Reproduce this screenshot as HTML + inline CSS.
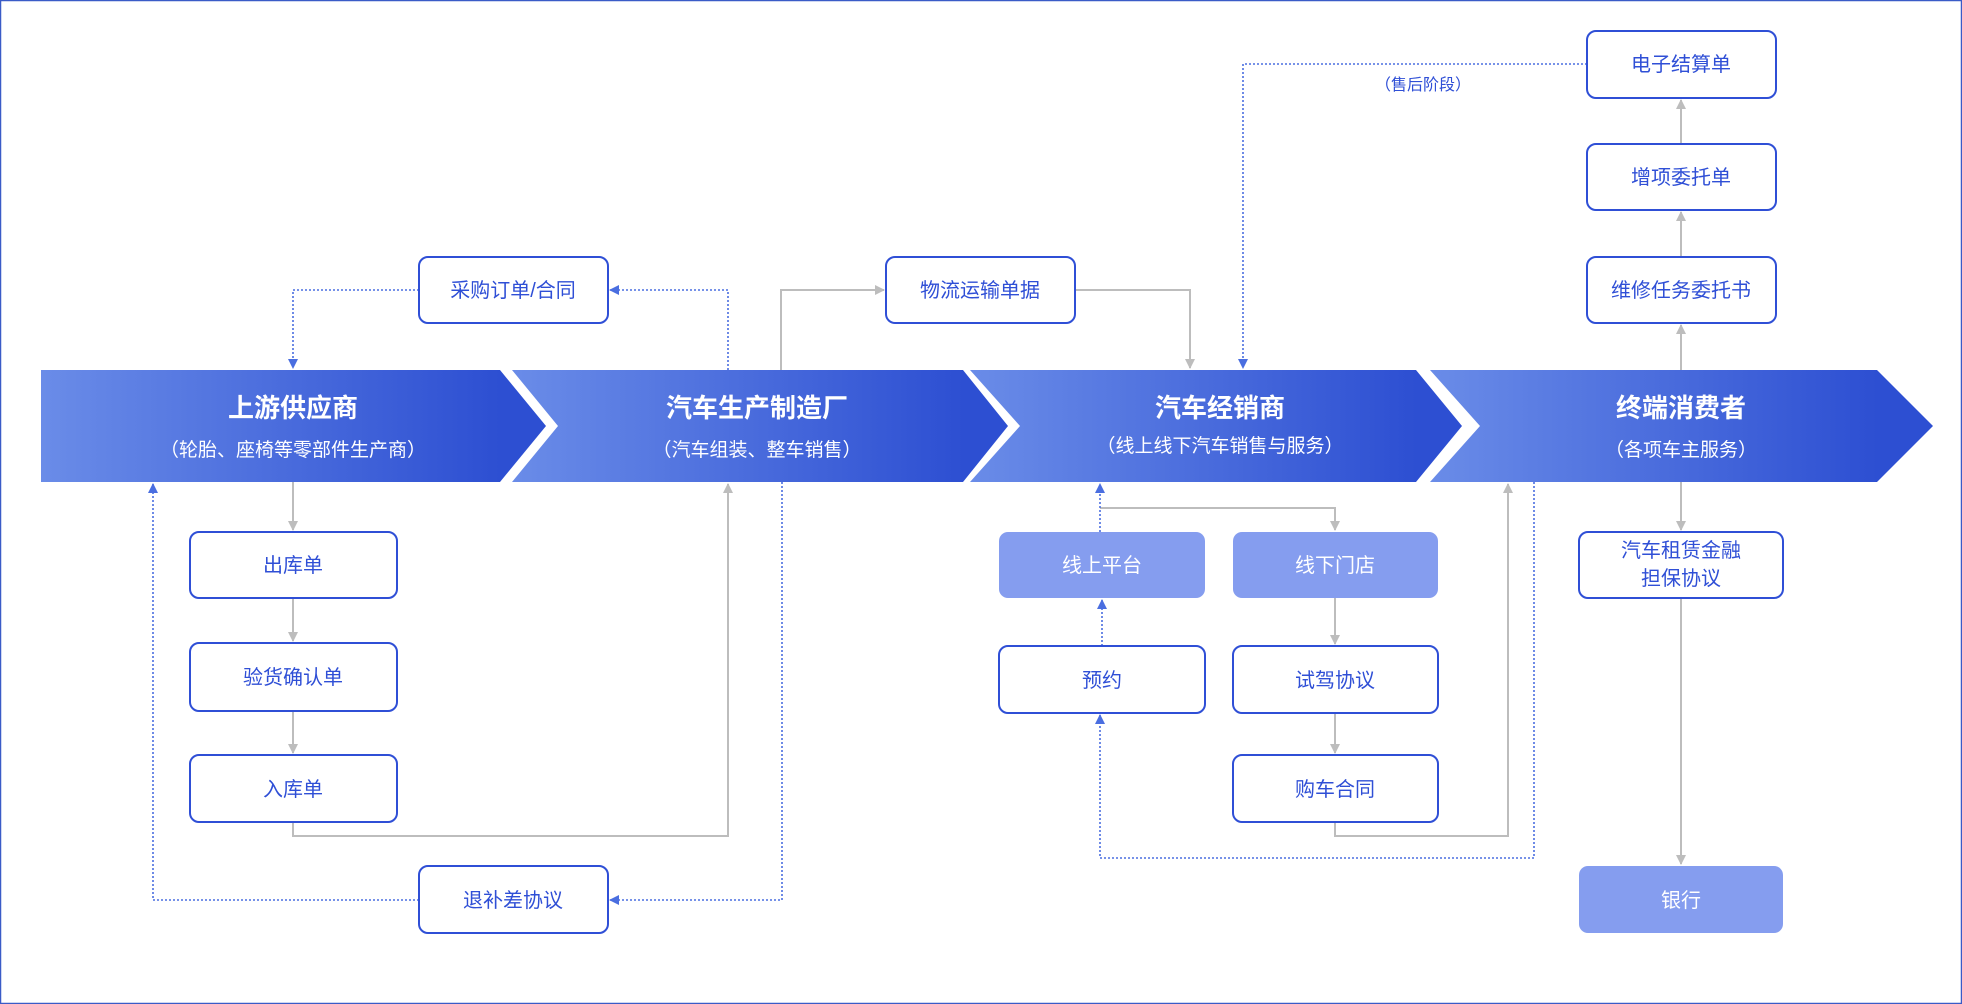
<!DOCTYPE html>
<html><head><meta charset="utf-8"><style>
html,body{margin:0;padding:0;background:#fff}
svg{display:block}
text{font-family:"Liberation Sans","Noto Sans CJK SC",sans-serif}
</style></head><body>
<svg width="1962" height="1004" viewBox="0 0 1962 1004" xmlns="http://www.w3.org/2000/svg">
<defs>
<linearGradient id="g1" gradientUnits="userSpaceOnUse" x1="41" y1="0" x2="500" y2="0"><stop offset="0" stop-color="#6a8ce8"/><stop offset="1" stop-color="#2d4fd2"/></linearGradient>
<linearGradient id="g2" gradientUnits="userSpaceOnUse" x1="512" y1="0" x2="963" y2="0"><stop offset="0" stop-color="#6a8ce8"/><stop offset="1" stop-color="#2d4fd2"/></linearGradient>
<linearGradient id="g3" gradientUnits="userSpaceOnUse" x1="970" y1="0" x2="1416" y2="0"><stop offset="0" stop-color="#6a8ce8"/><stop offset="1" stop-color="#2d4fd2"/></linearGradient>
<linearGradient id="g4" gradientUnits="userSpaceOnUse" x1="1430" y1="0" x2="1877" y2="0"><stop offset="0" stop-color="#6a8ce8"/><stop offset="1" stop-color="#2d4fd2"/></linearGradient>
<marker id="ag" markerWidth="10" markerHeight="10" refX="9" refY="5" orient="auto" markerUnits="userSpaceOnUse"><path d="M0,0 L10,5 L0,10 z" fill="#bdbdbd"/></marker>
<marker id="ab" markerWidth="10" markerHeight="10" refX="9" refY="5" orient="auto" markerUnits="userSpaceOnUse"><path d="M0,0 L10,5 L0,10 z" fill="#4a6ee0"/></marker>
</defs>
<rect x="0.5" y="0.5" width="1961" height="1003" fill="#fff" stroke="#3a5bc7" stroke-width="1.5"/>

<!-- banners -->
<polygon points="41,370 500,370 546,426 500,482 41,482" fill="url(#g1)"/>
<polygon points="512,370 963,370 1008,426 963,482 512,482 558,426" fill="url(#g2)"/>
<polygon points="970,370 1416,370 1462,426 1416,482 970,482 1020,426" fill="url(#g3)"/>
<polygon points="1430,370 1877,370 1933,426 1877,482 1430,482 1480,426" fill="url(#g4)"/>
<g fill="#fff" text-anchor="middle">
<text x="293" y="417" font-size="26" font-weight="bold">上游供应商</text>
<text x="293" y="456" font-size="19">（轮胎、座椅等零部件生产商）</text>
<text x="757" y="417" font-size="26" font-weight="bold">汽车生产制造厂</text>
<text x="757" y="456" font-size="19">（汽车组装、整车销售）</text>
<text x="1220" y="417" font-size="26" font-weight="bold">汽车经销商</text>
<text x="1220" y="452" font-size="19">（线上线下汽车销售与服务）</text>
<text x="1681" y="417" font-size="26" font-weight="bold">终端消费者</text>
<text x="1681" y="456" font-size="19">（各项车主服务）</text>
</g>

<!-- gray connectors -->
<g fill="none" stroke="#bdbdbd" stroke-width="2">
<path d="M781,370 V290 H884" marker-end="url(#ag)"/>
<path d="M1075,290 H1190 V368" marker-end="url(#ag)"/>
<path d="M1681,370 V325" marker-end="url(#ag)"/>
<path d="M1681,257 V212" marker-end="url(#ag)"/>
<path d="M1681,144 V100" marker-end="url(#ag)"/>
<path d="M1681,482 V530" marker-end="url(#ag)"/>
<path d="M1681,598 V864" marker-end="url(#ag)"/>
<path d="M293,482 V530" marker-end="url(#ag)"/>
<path d="M293,598 V641" marker-end="url(#ag)"/>
<path d="M293,711 V753" marker-end="url(#ag)"/>
<path d="M293,822 V836 H728 V484" marker-end="url(#ag)"/>
<path d="M1100,508 H1335 V530" marker-end="url(#ag)"/>
<path d="M1335,598 V644" marker-end="url(#ag)"/>
<path d="M1335,713 V753" marker-end="url(#ag)"/>
<path d="M1335,822 V836 H1508 V484" marker-end="url(#ag)"/>
</g>
<!-- blue dotted connectors -->
<g fill="none" stroke="#4a6ee0" stroke-width="1.6" stroke-dasharray="2,2">
<path d="M419,290 H293 V368" marker-end="url(#ab)"/>
<path d="M728,370 V290 H610" marker-end="url(#ab)"/>
<path d="M1587,64 H1243 V368" marker-end="url(#ab)"/>
<path d="M782,482 V900 H610" marker-end="url(#ab)"/>
<path d="M419,900 H153 V484" marker-end="url(#ab)"/>
<path d="M1100,532 V484" marker-end="url(#ab)"/>
<path d="M1102,646 V600" marker-end="url(#ab)"/>
<path d="M1534,482 V858 H1100 V715" marker-end="url(#ab)"/>
</g>
<text x="1423" y="90" font-size="16" fill="#2f4fd6" text-anchor="middle">（售后阶段）</text>

<!-- boxes -->
<g stroke="#2f4fd6" stroke-width="2" fill="#fff">
<rect x="419" y="257" width="189" height="66" rx="9"/>
<rect x="886" y="257" width="189" height="66" rx="9"/>
<rect x="1587" y="31" width="189" height="67" rx="9"/>
<rect x="1587" y="144" width="189" height="66" rx="9"/>
<rect x="1587" y="257" width="189" height="66" rx="9"/>
<rect x="190" y="532" width="207" height="66" rx="9"/>
<rect x="190" y="643" width="207" height="68" rx="9"/>
<rect x="190" y="755" width="207" height="67" rx="9"/>
<rect x="419" y="866" width="189" height="67" rx="9"/>
<rect x="999" y="646" width="206" height="67" rx="9"/>
<rect x="1233" y="646" width="205" height="67" rx="9"/>
<rect x="1233" y="755" width="205" height="67" rx="9"/>
<rect x="1579" y="532" width="204" height="66" rx="9"/>
</g>
<g fill="#859def">
<rect x="999" y="532" width="206" height="66" rx="9"/>
<rect x="1233" y="532" width="205" height="66" rx="9"/>
<rect x="1579" y="866" width="204" height="67" rx="9"/>
</g>
<g font-size="20" fill="#2f4fd6" text-anchor="middle">
<text x="513" y="297">采购订单/合同</text>
<text x="980" y="297">物流运输单据</text>
<text x="1681" y="71">电子结算单</text>
<text x="1681" y="184">增项委托单</text>
<text x="1681" y="297">维修任务委托书</text>
<text x="293" y="572">出库单</text>
<text x="293" y="684">验货确认单</text>
<text x="293" y="796">入库单</text>
<text x="513" y="907">退补差协议</text>
<text x="1102" y="687">预约</text>
<text x="1335" y="687">试驾协议</text>
<text x="1335" y="796">购车合同</text>
<text x="1681" y="557">汽车租赁金融</text>
<text x="1681" y="585">担保协议</text>
</g>
<g font-size="20" fill="#fff" text-anchor="middle">
<text x="1102" y="572">线上平台</text>
<text x="1335" y="572">线下门店</text>
<text x="1681" y="907">银行</text>
</g>
</svg>
</body></html>
